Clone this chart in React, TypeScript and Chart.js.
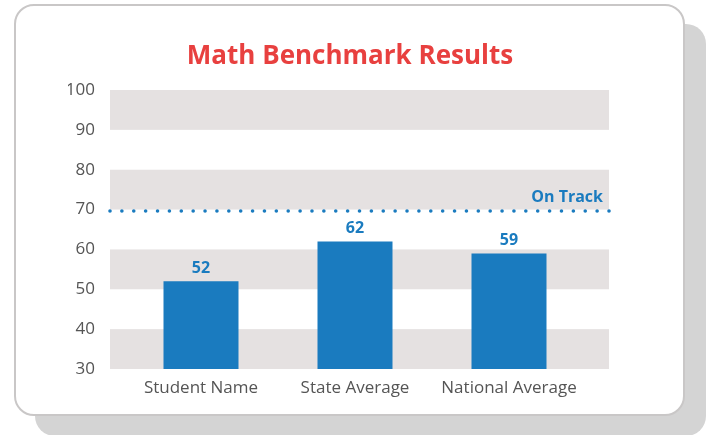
import React, { useEffect, useRef } from "react";
import { Chart, registerables } from "chart.js";

Chart.register(...registerables);

// ---- data ----
const categories = ["Student Name", "State Average", "National Average"];
const scores = [52, 62, 59];
const yMin = 30;
const yMax = 100;
const yStep = 10;
const bandRanges: [number, number][] = [
  [30, 40],
  [50, 60],
  [70, 80],
  [90, 100],
];
const onTrackValue = 70;
const onTrackLabel = "On Track";
const chartTitle = "Math Benchmark Results";

// ---- style ----
const FONT = "'Open Sans', Lato, sans-serif";
const BLUE = "#1a7bbf";
const RED = "#e8403f";
const BAND = "#e5e1e1";
const TEXT = "#555555";
const BAND_EXT_LEFT = 14;
const BAND_EXT_RIGHT = 23;
const TITLE_CENTER_X = 350;
const TITLE_BASELINE_Y = 64;

const decorPlugin = {
  id: "decor",
  beforeDatasetsDraw(chart: any) {
    const { ctx, chartArea, scales } = chart;
    const y = scales.y;
    const left = chartArea.left - BAND_EXT_LEFT;
    const right = chartArea.right + BAND_EXT_RIGHT;
    ctx.save();
    ctx.fillStyle = BAND;
    for (const [a, b] of bandRanges) {
      const top = y.getPixelForValue(b);
      const bot = y.getPixelForValue(a);
      ctx.fillRect(left, top, right - left, bot - top);
    }
    // title
    ctx.fillStyle = RED;
    ctx.font = `bold 26px ${FONT}`;
    ctx.textAlign = "center";
    ctx.textBaseline = "alphabetic";
    ctx.fillText(chartTitle, TITLE_CENTER_X, TITLE_BASELINE_Y);
    ctx.restore();
  },
  afterDatasetsDraw(chart: any) {
    const { ctx, chartArea, scales } = chart;
    const y = scales.y;
    const left = chartArea.left - BAND_EXT_LEFT;
    const right = chartArea.right + BAND_EXT_RIGHT;
    ctx.save();
    // dotted on-track line
    const ly = y.getPixelForValue(onTrackValue) + 1.5;
    const n = Math.round((right - left) / 12);
    const step = (right - left) / n;
    ctx.fillStyle = BLUE;
    for (let i = 0; i <= n; i++) {
      ctx.beginPath();
      ctx.arc(left + i * step, ly, 1.8, 0, Math.PI * 2);
      ctx.fill();
    }
    // label
    ctx.font = `bold 16px ${FONT}`;
    ctx.textAlign = "right";
    ctx.textBaseline = "alphabetic";
    ctx.fillText(onTrackLabel, right - 6, ly - 9);
    // value labels
    const meta = chart.getDatasetMeta(0);
    ctx.textAlign = "center";
    meta.data.forEach((bar: any, i: number) => {
      ctx.fillText(String(scores[i]), bar.x, bar.y - 8);
    });
    ctx.restore();
  },
};

export default function App() {
  const ref = useRef<HTMLCanvasElement | null>(null);

  useEffect(() => {
    if (!ref.current) return;
    const chart = new Chart(ref.current, {
      type: "bar",
      data: {
        labels: categories,
        datasets: [
          {
            data: scores,
            backgroundColor: BLUE,
            borderWidth: 0,
            categoryPercentage: 1,
            barPercentage: 0.487,
          },
        ],
      },
      options: {
        responsive: false,
        animation: false,
        layout: { padding: { left: 68, right: 126, top: 90, bottom: 36 } },
        plugins: {
          legend: { display: false },
          tooltip: { enabled: false },
          title: { display: false },
        },
        scales: {
          x: {
            grid: { display: false, drawTicks: false },
            border: { display: false },
            ticks: {
              color: TEXT,
              font: { family: FONT, size: 17 },
              padding: 9,
            },
            afterFit: (s: any) => {
              s.height = 30;
            },
          },
          y: {
            min: yMin,
            max: yMax,
            grid: { display: false, drawTicks: false },
            border: { display: false },
            ticks: {
              stepSize: yStep,
              color: TEXT,
              font: { family: FONT, size: 17 },
              padding: 29,
            },
            afterFit: (s: any) => {
              s.width = 56;
            },
          },
        },
      },
      plugins: [decorPlugin],
    });
    return () => chart.destroy();
  }, []);

  return (
    <div style={{ position: "absolute", left: 0, top: 0, width: 712, height: 435, overflow: "hidden", background: "#fff" }}>
      <div
        style={{
          position: "absolute",
          left: 14,
          top: 4,
          width: 667,
          height: 408,
          border: "2px solid #c9c7c7",
          borderRadius: 20,
          background: "#fff",
          boxShadow: "21px 20px 0 #d4d4d4",
        }}
      />
      <canvas
        ref={ref}
        width={712}
        height={435}
        style={{ position: "absolute", left: 0, top: 0, width: 712, height: 435 }}
      />
    </div>
  );
}
